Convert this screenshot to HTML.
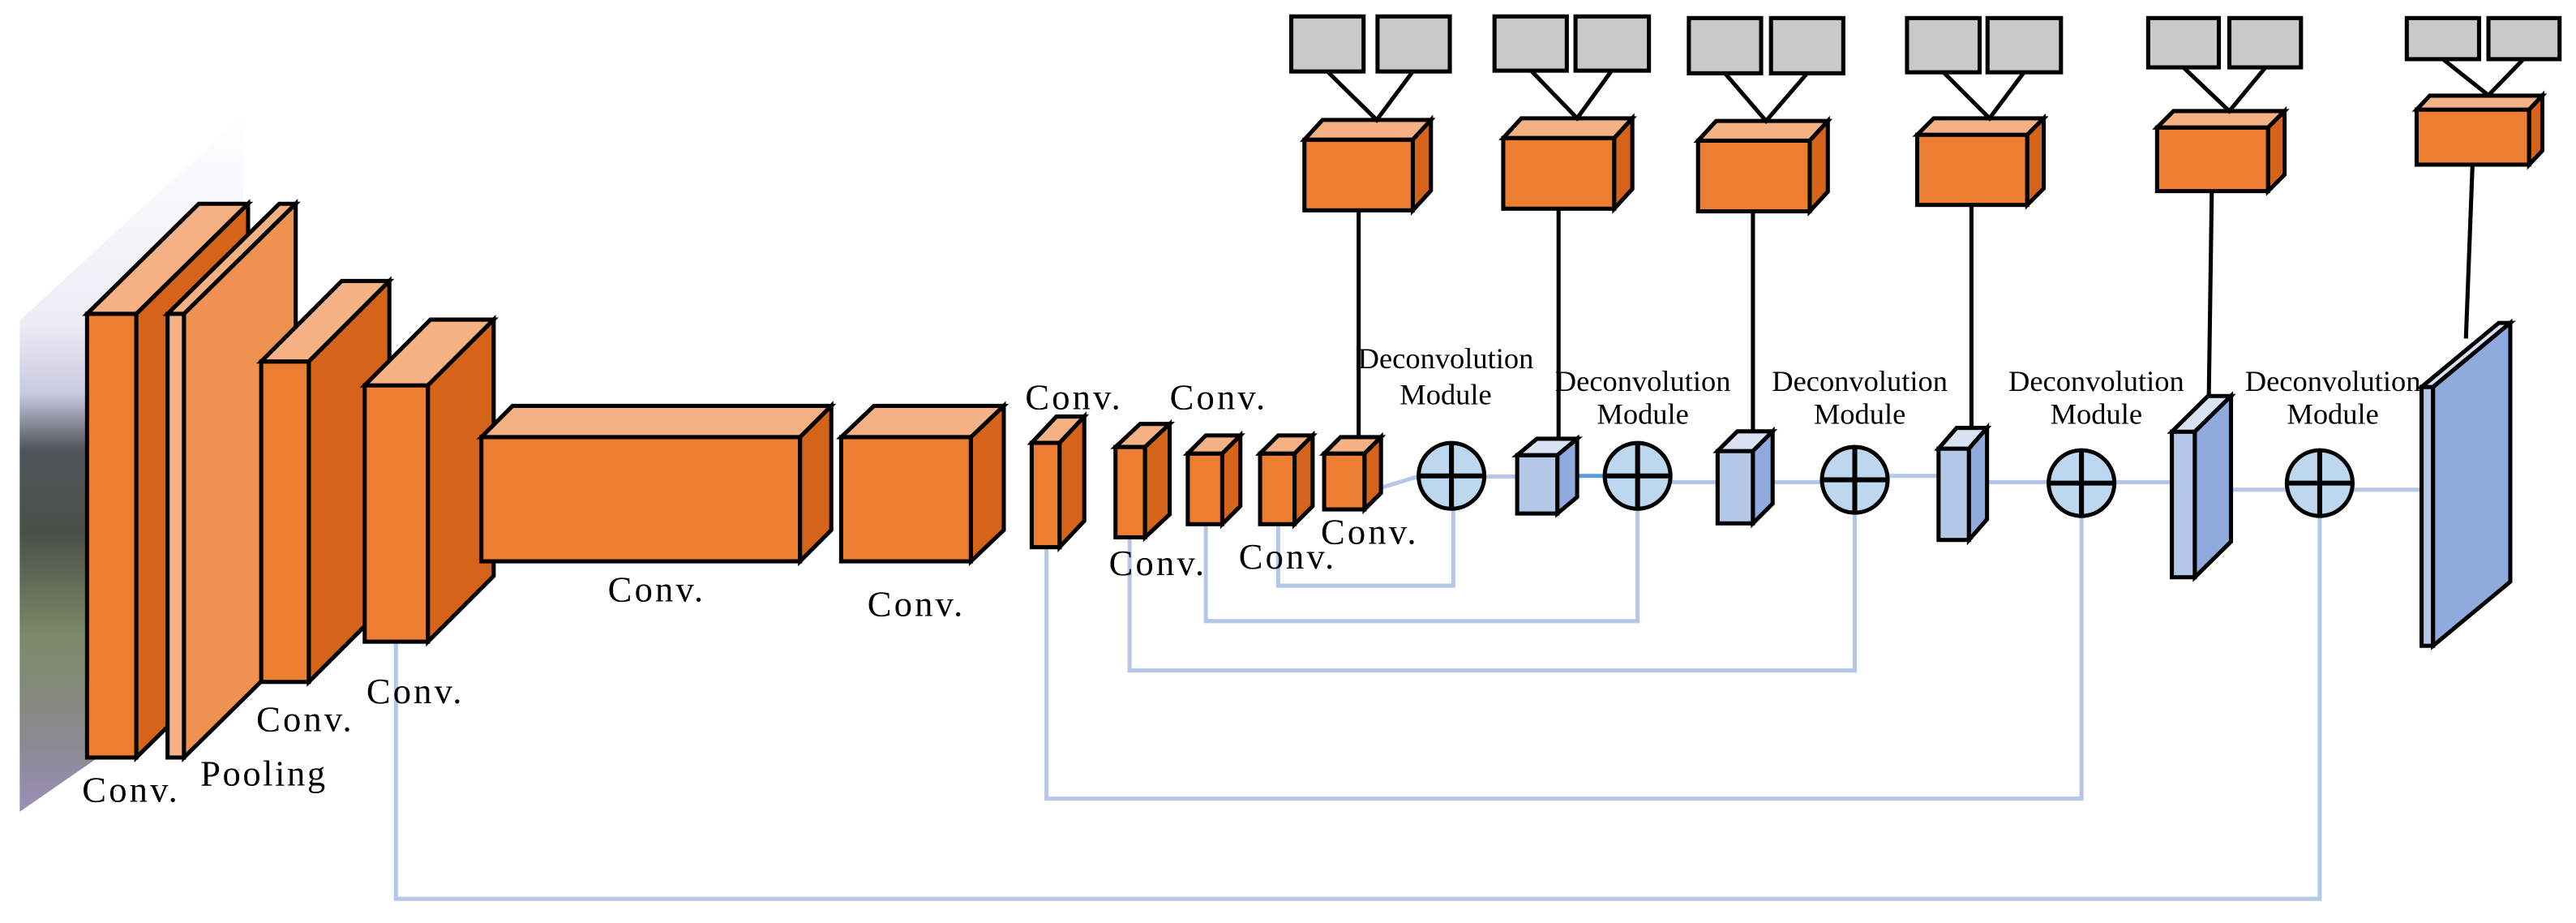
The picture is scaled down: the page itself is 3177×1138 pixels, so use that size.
<!DOCTYPE html>
<html><head><meta charset="utf-8"><style>html,body{margin:0;padding:0;background:#fff}svg{display:block}</style></head>
<body>
<svg width="3177" height="1138" viewBox="0 0 1568 561.7" preserveAspectRatio="none" xmlns="http://www.w3.org/2000/svg">
<defs>
<linearGradient id="ph" x1="0" y1="0" x2="0" y2="1">
<stop offset="0" stop-color="#ffffff"/><stop offset="0.3" stop-color="#ececf6"/><stop offset="0.4" stop-color="#c8cae0"/><stop offset="0.48" stop-color="#50555a"/><stop offset="0.6" stop-color="#4a5048"/><stop offset="0.75" stop-color="#7d8a68"/><stop offset="0.9" stop-color="#8a8a90"/><stop offset="1" stop-color="#9a90b8"/>
</linearGradient>
</defs>
<rect width="1568" height="561.7" fill="#fff"/>
<polygon points="12,195 148,70 148,400 12,494" fill="url(#ph)"/>
<g fill="none" stroke="#B4C7E7" stroke-width="2.5">
<polyline points="778,319 778,356.4 884.6,356.4 884.6,309.6"/>
<polyline points="734,319 734,378 996.8,378 996.8,309.6"/>
<polyline points="687.6,327 687.6,408 1129,408 1129,312"/>
<polyline points="637,333 637,486 1267,486 1267,314"/>
<polyline points="241,390.5 241,547 1412,547 1412,314"/>
<line x1="840" y1="297" x2="863" y2="290"/>
<line x1="903.5" y1="290" x2="923.5" y2="290"/>
<line x1="1017" y1="293.4" x2="1045.5" y2="293.4"/>
<line x1="1079" y1="293.4" x2="1109" y2="293.4"/>
<line x1="1149" y1="289.6" x2="1180" y2="289.6"/>
<line x1="1209.5" y1="293.4" x2="1247" y2="293.4"/>
<line x1="1287" y1="293.4" x2="1322" y2="293.4"/>
<line x1="1358" y1="298" x2="1392" y2="298"/>
<line x1="1432" y1="298" x2="1474" y2="298"/>
</g>
<line x1="960" y1="289.6" x2="977" y2="289.6" stroke="#5B9BD5" stroke-width="2.5"/>
<g stroke="#000" stroke-width="2.5" stroke-linejoin="miter">
<rect x="53" y="191" width="30" height="270" fill="#ED7D31"/>
<polygon points="53,191 121,124 151,124 83,191" fill="#F4B183"/>
<polygon points="83,191 151,124 151,394 83,461" fill="#D6631A"/>
<rect x="102" y="191" width="10" height="270" fill="#F4B183"/>
<polygon points="102,191 170,124 180,124 112,191" fill="#F4B183"/>
<polygon points="112,191 180,124 180,394 112,461" fill="#EF9150"/>
<rect x="159" y="220" width="29" height="195" fill="#ED7D31"/>
<polygon points="159,220 208,171 237,171 188,220" fill="#F4B183"/>
<polygon points="188,220 237,171 237,366 188,415" fill="#D6631A"/>
<rect x="222" y="234.5" width="38.5" height="156" fill="#ED7D31"/>
<polygon points="222,234.5 262,194.5 300.5,194.5 260.5,234.5" fill="#F4B183"/>
<polygon points="260.5,234.5 300.5,194.5 300.5,350.5 260.5,390.5" fill="#D6631A"/>
<rect x="293" y="266" width="194" height="75.6" fill="#ED7D31"/>
<polygon points="293,266 312,247 506,247 487,266" fill="#F4B183"/>
<polygon points="487,266 506,247 506,322.6 487,341.6" fill="#D6631A"/>
<rect x="512" y="266" width="79" height="75.6" fill="#ED7D31"/>
<polygon points="512,266 532,247 611,247 591,266" fill="#F4B183"/>
<polygon points="591,266 611,247 611,322.6 591,341.6" fill="#D6631A"/>
<rect x="628" y="269.5" width="17" height="63.5" fill="#ED7D31"/>
<polygon points="628,269.5 643,253.5 660,253.5 645,269.5" fill="#F4B183"/>
<polygon points="645,269.5 660,253.5 660,317 645,333" fill="#D6631A"/>
<rect x="679" y="272" width="18" height="55" fill="#ED7D31"/>
<polygon points="679,272 694,258 712,258 697,272" fill="#F4B183"/>
<polygon points="697,272 712,258 712,313 697,327" fill="#D6631A"/>
<rect x="723" y="276" width="21" height="43" fill="#ED7D31"/>
<polygon points="723,276 734,265 755,265 744,276" fill="#F4B183"/>
<polygon points="744,276 755,265 755,308 744,319" fill="#D6631A"/>
<rect x="767" y="276" width="21" height="43" fill="#ED7D31"/>
<polygon points="767,276 778,265 799,265 788,276" fill="#F4B183"/>
<polygon points="788,276 799,265 799,308 788,319" fill="#D6631A"/>
<rect x="806" y="276" width="24.6" height="34" fill="#ED7D31"/>
<polygon points="806,276 816,266 840.6,266 830.6,276" fill="#F4B183"/>
<polygon points="830.6,276 840.6,266 840.6,300 830.6,310" fill="#D6631A"/>
<rect x="923.5" y="277" width="24.5" height="35.5" fill="#B4C7E7"/>
<polygon points="923.5,277 935.5,267 960,267 948,277" fill="#DAE3F3"/>
<polygon points="948,277 960,267 960,302.5 948,312.5" fill="#8FAADC"/>
<rect x="1045.5" y="274.5" width="21.5" height="44" fill="#B4C7E7"/>
<polygon points="1045.5,274.5 1057.5,262.5 1079,262.5 1067,274.5" fill="#DAE3F3"/>
<polygon points="1067,274.5 1079,262.5 1079,306.5 1067,318.5" fill="#8FAADC"/>
<rect x="1180" y="273" width="18.5" height="55.6" fill="#B4C7E7"/>
<polygon points="1180,273 1191,260.4 1209.5,260.4 1198.5,273" fill="#DAE3F3"/>
<polygon points="1198.5,273 1209.5,260.4 1209.5,316 1198.5,328.6" fill="#8FAADC"/>
<rect x="1322" y="262.7" width="14" height="88.6" fill="#B4C7E7"/>
<polygon points="1322,262.7 1344,241 1358,241 1336,262.7" fill="#DAE3F3"/>
<polygon points="1336,262.7 1358,241 1358,329.6 1336,351.3" fill="#8FAADC"/>
<rect x="1474" y="235.5" width="7" height="157.5" fill="#B4C7E7"/>
<polygon points="1474,235.5 1521,196.5 1528,196.5 1481,235.5" fill="#DAE3F3"/>
<polygon points="1481,235.5 1528,196.5 1528,354 1481,393" fill="#8FAADC"/>
<rect x="794" y="85" width="66" height="43" fill="#ED7D31"/>
<polygon points="794,85 805,73 871,73 860,85" fill="#F4B183"/>
<polygon points="860,85 871,73 871,116 860,128" fill="#D6631A"/>
<rect x="915" y="84" width="67.6" height="43" fill="#ED7D31"/>
<polygon points="915,84 926,72 993.6,72 982.6,84" fill="#F4B183"/>
<polygon points="982.6,84 993.6,72 993.6,115 982.6,127" fill="#D6631A"/>
<rect x="1033.6" y="85.6" width="68" height="43" fill="#ED7D31"/>
<polygon points="1033.6,85.6 1044.6,73.6 1112.6,73.6 1101.6,85.6" fill="#F4B183"/>
<polygon points="1101.6,85.6 1112.6,73.6 1112.6,116.6 1101.6,128.6" fill="#D6631A"/>
<rect x="1167" y="82" width="67" height="42.7" fill="#ED7D31"/>
<polygon points="1167,82 1177,72 1244,72 1234,82" fill="#F4B183"/>
<polygon points="1234,82 1244,72 1244,114.7 1234,124.7" fill="#D6631A"/>
<rect x="1313" y="77.6" width="67.6" height="38.7" fill="#ED7D31"/>
<polygon points="1313,77.6 1323,67.6 1390.6,67.6 1380.6,77.6" fill="#F4B183"/>
<polygon points="1380.6,77.6 1390.6,67.6 1390.6,106.3 1380.6,116.3" fill="#D6631A"/>
<rect x="1471" y="66.7" width="68.5" height="33.5" fill="#ED7D31"/>
<polygon points="1471,66.7 1479,58.2 1547.5,58.2 1539.5,66.7" fill="#F4B183"/>
<polygon points="1539.5,66.7 1547.5,58.2 1547.5,91.7 1539.5,100.2" fill="#D6631A"/>
<g fill="#C9C9C9">
<rect x="786" y="10" width="44" height="33.5"/><rect x="838.5" y="10" width="44" height="33.5"/>
<rect x="909.7" y="10" width="44" height="33"/><rect x="959" y="10" width="44.7" height="33"/>
<rect x="1028" y="11" width="44" height="33.6"/><rect x="1078" y="11" width="44" height="33.6"/>
<rect x="1160.8" y="11" width="44.2" height="33"/><rect x="1209.8" y="11" width="44.7" height="33"/>
<rect x="1307.6" y="11" width="43" height="30"/><rect x="1357" y="11" width="43.6" height="30"/>
<rect x="1465" y="11" width="44" height="25"/><rect x="1514.7" y="11" width="43.3" height="25"/>
</g>
<g fill="none">
<polyline points="808,43.5 838,73 860,43.5"/>
<polyline points="932,43 960,72 981,43"/>
<polyline points="1050,44.6 1075,73.6 1100,44.6"/>
<polyline points="1183,44 1211,72 1232,44"/>
<polyline points="1329,41 1357,67.6 1379,41"/>
<polyline points="1487,36 1514.7,58 1536,36"/>
<line x1="827" y1="128" x2="827" y2="266"/>
<line x1="948.7" y1="127" x2="948.7" y2="267"/>
<line x1="1067" y1="128.6" x2="1067" y2="262.5"/>
<line x1="1200" y1="124.7" x2="1200" y2="260.4"/>
<line x1="1346.3" y1="116.3" x2="1344.5" y2="241"/>
<line x1="1505" y1="100.2" x2="1501" y2="206"/>
</g>
<g fill="#BDD7EE">
<ellipse cx="883.5" cy="289.6" rx="20" ry="20"/>
<ellipse cx="996.8" cy="289.6" rx="20" ry="20"/>
<ellipse cx="1129" cy="292" rx="20" ry="20"/>
<ellipse cx="1267" cy="294" rx="20" ry="20"/>
<ellipse cx="1412" cy="294" rx="20" ry="20"/>
</g>
<g stroke-width="3">
<path d="M863.5 289.6H903.5M883.5 269.6V309.6"/>
<path d="M976.8 289.6H1016.8M996.8 269.6V309.6"/>
<path d="M1109 292H1149M1129 272V312"/>
<path d="M1247 294H1287M1267 274V314"/>
<path d="M1392 294H1432M1412 274V314"/>
</g>
</g>
<g font-family="'Liberation Serif', serif" fill="#000">
<g font-size="22">
<text x="50" y="488" textLength="58">Conv.</text>
<text x="122" y="478" textLength="76">Pooling</text>
<text x="156" y="445" textLength="58">Conv.</text>
<text x="223" y="428" textLength="58">Conv.</text>
<text x="370" y="366" textLength="58">Conv.</text>
<text x="528" y="375" textLength="58">Conv.</text>
<text x="624" y="249" textLength="58">Conv.</text>
<text x="712" y="249" textLength="58">Conv.</text>
<text x="675" y="350" textLength="58">Conv.</text>
<text x="754" y="346" textLength="58">Conv.</text>
<text x="804" y="331" textLength="58">Conv.</text>
</g>
<g font-size="18" text-anchor="middle">
<text x="880" y="224">Deconvolution</text><text x="880" y="246">Module</text>
<text x="1000" y="238">Deconvolution</text><text x="1000" y="258">Module</text>
<text x="1132" y="238">Deconvolution</text><text x="1132" y="258">Module</text>
<text x="1276" y="238">Deconvolution</text><text x="1276" y="258">Module</text>
<text x="1420" y="238">Deconvolution</text><text x="1420" y="258">Module</text>
</g>
</g>
</svg>
</body></html>
